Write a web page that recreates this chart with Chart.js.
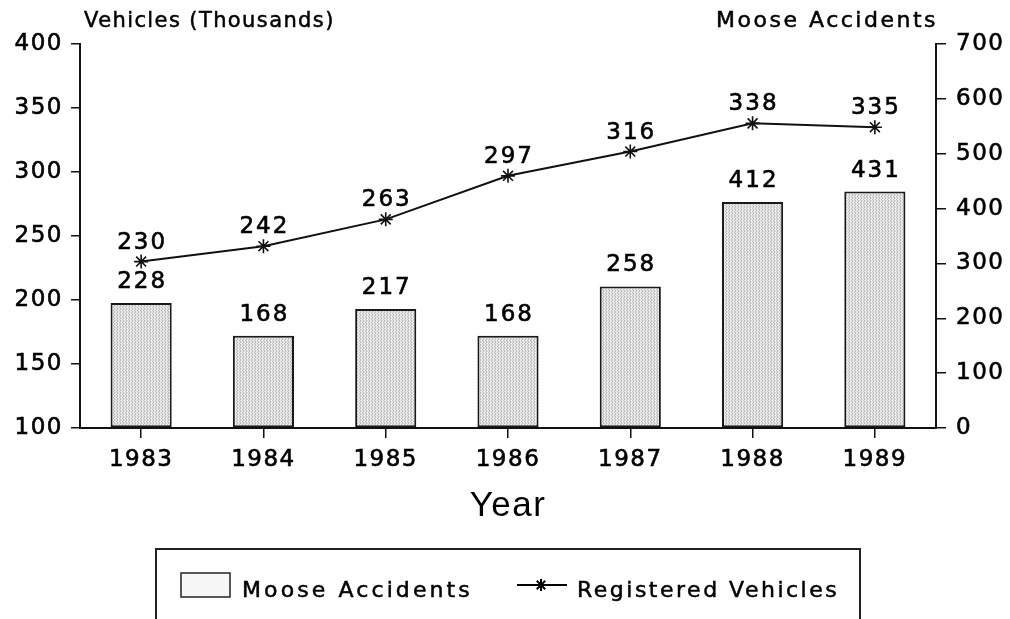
<!DOCTYPE html>
<html><head><meta charset="utf-8">
<script src="https://cdn.jsdelivr.net/npm/chart.js@4.4.1/dist/chart.umd.min.js"></script>
<style>html,body{margin:0;padding:0;background:#fff}canvas{display:block}</style>
</head><body>
<canvas id="c" width="1010" height="619"></canvas>
<script>
// ---- data ----
const years = ['1983', '1984', '1985', '1986', '1987', '1988', '1989'];
const mooseAccidents = [228, 168, 217, 168, 258, 412, 431];
const registeredVehicles = [230, 242, 263, 297, 316, 338, 335];
const vehicleTicks = [100, 150, 200, 250, 300, 350, 400];
const accidentTicks = [0, 100, 200, 300, 400, 500, 600, 700];
const leftTitle = 'Vehicles (Thousands)';
const rightTitle = 'Moose Accidents';
const xTitle = 'Year';
const seriesNames = ['Moose Accidents', 'Registered Vehicles'];

const FONT = "'DejaVu Sans', sans-serif";
const SPACING = '1.5px';
const INK = '#000';

function makePattern() {
  const c = document.createElement('canvas');
  c.width = 3; c.height = 3;
  const g = c.getContext('2d');
  g.fillStyle = '#e4e4e4'; g.fillRect(0, 0, 3, 3);
  g.fillStyle = '#bdbdbd';
  g.fillRect(0, 0, 1, 1); g.fillRect(0, 2, 1, 1); g.fillRect(2, 1, 1, 1);
  g.fillStyle = '#f2f2f2';
  g.fillRect(1, 1, 1, 1);
  return document.getElementById('c').getContext('2d').createPattern(c, 'repeat');
}
const barFill = makePattern();

const spacingPlugin = {
  id: 'spacing',
  beforeUpdate(chart) { chart.ctx.letterSpacing = SPACING; },
  beforeLayout(chart) { chart.ctx.letterSpacing = SPACING; },
  beforeDraw(chart) { chart.ctx.letterSpacing = SPACING; }
};

function inkText(ctx, text, x, y) {
  ctx.fillText(text, x, y);
  ctx.strokeText(text, x, y);
}

const valueLabels = {
  id: 'valueLabels',
  afterDatasetsDraw(chart) {
    const ctx = chart.ctx;
    ctx.save();
    ctx.letterSpacing = '2px';
    ctx.font = '23px ' + FONT;
    ctx.fillStyle = INK;
    ctx.strokeStyle = INK;
    ctx.lineWidth = 0.6;
    ctx.textAlign = 'center';
    ctx.textBaseline = 'alphabetic';
    chart.data.datasets.forEach((ds, i) => {
      const meta = chart.getDatasetMeta(i);
      const off = ds.type === 'line' ? 13 : 15;
      meta.data.forEach((el, j) => {
        inkText(ctx, String(ds.data[j]), el.x + 1, el.y - off);
      });
    });
    ctx.restore();
  }
};

const decorations = {
  id: 'decorations',
  afterDraw(chart) {
    const ctx = chart.ctx;
    const area = chart.chartArea;
    ctx.save();
    ctx.fillStyle = INK;
    ctx.strokeStyle = INK;
    ctx.lineWidth = 0.5;
    ctx.textBaseline = 'alphabetic';
    ctx.textAlign = 'left';
    ctx.letterSpacing = '1.4px';
    ctx.font = '21px ' + FONT;
    inkText(ctx, leftTitle, area.left + 4, 27);
    ctx.textAlign = 'right';
    ctx.letterSpacing = '2.5px';
    ctx.font = '22px ' + FONT;
    inkText(ctx, rightTitle, area.right + 2, 27);

    // legend box
    ctx.strokeStyle = '#222';
    ctx.lineWidth = 2;
    ctx.beginPath();
    ctx.moveTo(156, 640); ctx.lineTo(156, 549); ctx.lineTo(860, 549); ctx.lineTo(860, 640);
    ctx.stroke();

    const bar = chart.data.datasets[1];
    const line = chart.data.datasets[0];
    // bar swatch
    ctx.fillStyle = '#f7f7f7';
    ctx.fillRect(181, 573, 49, 24);
    ctx.lineWidth = 1.5;
    ctx.strokeStyle = '#222';
    ctx.strokeRect(181, 573, 49, 24);
    ctx.fillStyle = INK;
    ctx.strokeStyle = INK;
    ctx.lineWidth = 0.5;
    ctx.textAlign = 'left';
    ctx.font = '22px ' + FONT;
    ctx.letterSpacing = '3.1px';
    inkText(ctx, bar.label, 242, 597);
    // line swatch
    ctx.lineWidth = 2;
    ctx.beginPath(); ctx.moveTo(517, 585); ctx.lineTo(567, 585); ctx.stroke();
    Chart.helpers.drawPoint(ctx, {pointStyle: 'star', radius: 6, rotation: 0, borderWidth: 1.5}, 541, 585);
    ctx.lineWidth = 0.5;
    ctx.letterSpacing = '2.5px';
    inkText(ctx, line.label, 577, 597);
    ctx.restore();
  }
};

const tickFont = {family: FONT, size: 23};

new Chart(document.getElementById('c'), {
  type: 'bar',
  data: {
    labels: years,
    datasets: [
      {
        type: 'line',
        label: seriesNames[1],
        data: registeredVehicles,
        yAxisID: 'yLeft',
        borderColor: '#111',
        borderWidth: 2,
        pointStyle: 'star',
        pointRadius: 7,
        pointBorderWidth: 1.6,
        pointBorderColor: '#111',
        pointBackgroundColor: '#111',
        tension: 0,
        fill: false,
        order: 0
      },
      {
        type: 'bar',
        label: seriesNames[0],
        data: mooseAccidents,
        yAxisID: 'yRight',
        backgroundColor: barFill,
        borderColor: '#1a1a1a',
        borderWidth: 2,
        borderSkipped: false,
        barPercentage: 0.5,
        categoryPercentage: 1.0,
        order: 1
      }
    ]
  },
  options: {
    responsive: false,
    animation: false,
    devicePixelRatio: 1,
    layout: {padding: {top: 44, left: 0, right: 0, bottom: 0}},
    plugins: {legend: {display: false}, tooltip: {enabled: false}, title: {display: false}},
    scales: {
      x: {
        type: 'category',
        offset: true,
        grid: {offset: false, drawOnChartArea: false, drawTicks: true, tickLength: 10, color: '#111', lineWidth: 1.5},
        border: {display: true, color: '#111', width: 2},
        ticks: {color: INK, font: tickFont, padding: 8, maxRotation: 0, textStrokeColor: INK, textStrokeWidth: 0.6},
        title: {display: true, text: xTitle, color: INK, font: {family: "'Liberation Sans', Arial, sans-serif", size: 35}, padding: {top: 0, bottom: 92}},
        afterFit(s) { s.height = 191; }
      },
      yLeft: {
        type: 'linear',
        position: 'left',
        min: vehicleTicks[0],
        max: vehicleTicks[vehicleTicks.length - 1],
        afterBuildTicks(s) { s.ticks = vehicleTicks.map(v => ({value: v})); },
        grid: {drawOnChartArea: false, drawTicks: true, tickLength: 9, color: '#111', lineWidth: 1.5},
        border: {display: true, color: '#111', width: 2},
        ticks: {color: INK, font: tickFont, padding: 8, textStrokeColor: INK, textStrokeWidth: 0.6},
        afterFit(s) { s.width = 80; }
      },
      yRight: {
        type: 'linear',
        position: 'right',
        min: accidentTicks[0],
        max: accidentTicks[accidentTicks.length - 1],
        afterBuildTicks(s) { s.ticks = accidentTicks.map(v => ({value: v})); },
        grid: {drawOnChartArea: false, drawTicks: true, tickLength: 10, color: '#111', lineWidth: 1.5},
        border: {display: true, color: '#111', width: 2},
        ticks: {color: INK, font: tickFont, padding: 10, textStrokeColor: INK, textStrokeWidth: 0.6},
        afterFit(s) { s.width = 74; }
      }
    }
  },
  plugins: [spacingPlugin, valueLabels, decorations]
});
</script>
</body></html>
